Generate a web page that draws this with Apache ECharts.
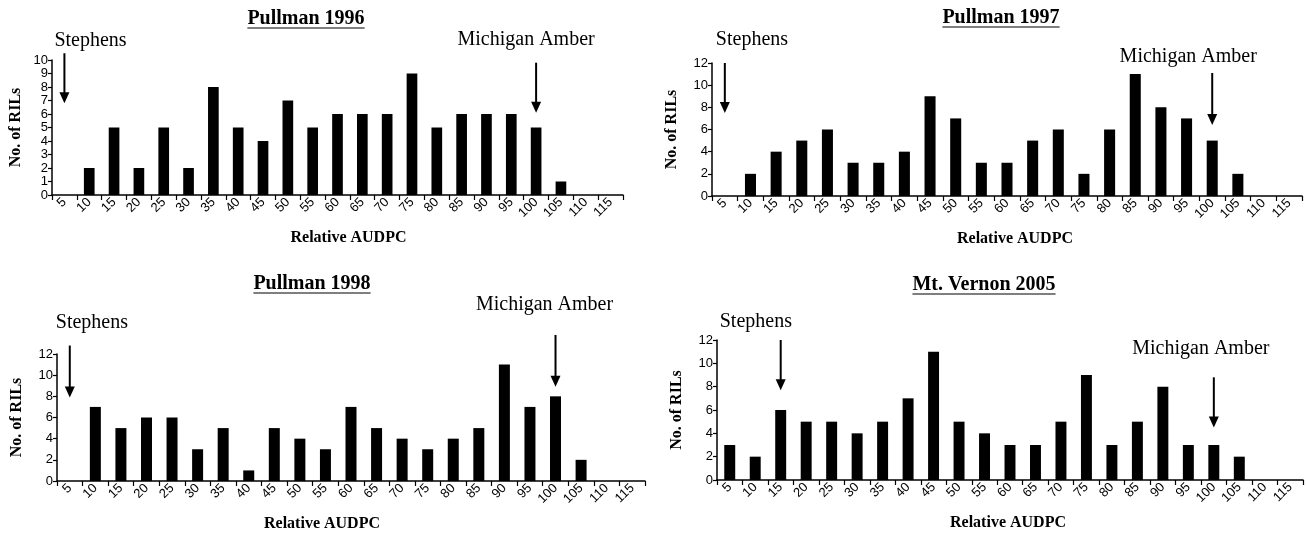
<!DOCTYPE html>
<html>
<head>
<meta charset="utf-8">
<script src="https://cdn.jsdelivr.net/npm/echarts@6/dist/echarts.min.js"></script>
<style>
html,body{margin:0;padding:0;background:#fff;}
#c{width:1306px;height:535px;}
</style>
</head>
<body>
<div id="c"></div>
<script>
// ---------- DATA ----------
const categories = ['5','10','15','20','25','30','35','40','45','50','55','60','65','70','75','80','85','90','95','100','105','110','115'];
const titles = ['Pullman 1996', 'Pullman 1997', 'Pullman 1998', 'Mt. Vernon 2005'];
const pullman1996 = [0,2,5,2,5,2,8,5,4,7,5,6,6,6,9,5,6,6,6,5,1,0,0];
const pullman1997 = [0,2,4,5,6,3,3,4,9,7,3,3,5,6,2,6,11,8,7,5,2,0,0];
const pullman1998 = [0,7,5,6,6,3,5,1,5,4,3,7,5,4,3,4,5,11,7,8,2,0,0];
const mtVernon2005 = [3,2,6,5,5,4,5,7,11,5,4,3,3,5,9,3,5,8,3,3,2,0,0];
const yMax = [10, 12, 12, 12];
const yStep = [1, 2, 2, 2];
const yTickLabels = [
  ['0','1','2','3','4','5','6','7','8','9','10'],
  ['0','2','4','6','8','10','12'],
  ['0','2','4','6','8','10','12'],
  ['0','2','4','6','8','10','12']
];
// annotation arrows: [category, arrow top value, arrow tip value]
const parentNames = ['Stephens', 'Michigan Amber'];
const stephensArrows = [['5',10.5,6.8], ['5',12.0,7.5], ['5',12.8,7.9], ['15',12.0,7.7]];
const amberArrows    = [['100',9.8,6.1], ['100',11.1,6.4], ['100',13.8,8.9], ['100',8.8,4.5]];
const seriesValues = [pullman1996, pullman1997, pullman1998, mtVernon2005];

// ---------- LAYOUT / STYLE ----------
const grids = [
  {left:52, right:683, top:60, bottom:340},
  {left:712, right:4, top:63, bottom:339},
  {left:57, right:661, top:354, bottom:54},
  {left:717, right:3, top:340, bottom:55}
];
const yNameGap = [28, 32, 32, 32];
const xNamePad = [[0,0,0,22],[0,0,0,16],[0,58,0,0],[0,4,0,0]];
const titlePos = [[306,19],[1001,18],[312,284],[984,285]];
// label offsets relative to arrow top [dx, dy, align]
const stephensLabelOff = [[-10,-13,'left'],[-9,-23,'left'],[-14,-23,'left'],[-61,-18,'left']];
const amberLabelOff = [[-10,-23,'center'],[-24,-16,'center'],[-11,-30,'center'],[-13,-29,'center']];

const serif = '"Liberation Serif", "Times New Roman", serif';
const sans = '"Liberation Sans", Arial, sans-serif';

const chart = echarts.init(document.getElementById('c'), null, {renderer:'canvas'});

const option = {
  backgroundColor:'#fff',
  animation:false,
  grid: grids.map(g => Object.assign({containLabel:false}, g)),
  xAxis: grids.map((g,i) => ({
    type:'category', gridIndex:i, data:categories,
    name:'Relative AUDPC', nameLocation:'middle', nameGap:35,
    nameTextStyle:{fontFamily:serif, fontWeight:'bold', fontSize:16, color:'#000', padding:xNamePad[i]},
    axisLine:{lineStyle:{color:'#000', width:1.5}},
    axisTick:{show:true, alignWithLabel:false, length:5, lineStyle:{color:'#000', width:1.2}},
    axisLabel:{interval:0, rotate:45, margin:5, fontFamily:sans, fontSize:13, color:'#000'},
    splitLine:{show:false}
  })),
  yAxis: grids.map((g,i) => ({
    type:'value', gridIndex:i, min:0, max:yMax[i], interval:yStep[i],
    name:'No. of RILs', nameLocation:'middle', nameGap:yNameGap[i],
    nameTextStyle:{fontFamily:serif, fontWeight:'bold', fontSize:16, color:'#000'},
    axisLine:{show:true, lineStyle:{color:'#000', width:1.5}},
    axisTick:{show:true, length:4, lineStyle:{color:'#000', width:1.2}},
    axisLabel:{margin:4, fontFamily:sans, fontSize:13, color:'#000',
      formatter:(v)=>{ const idx = Math.round(v / yStep[i]); return yTickLabels[i][idx] !== undefined ? yTickLabels[i][idx] : ''; }},
    splitLine:{show:false}
  })),
  series: []
};

seriesValues.forEach((vals,i) => {
  option.series.push({
    type:'bar', xAxisIndex:i, yAxisIndex:i, data:vals, barWidth:'43%',
    itemStyle:{color:'#000'}, silent:true
  });
  const annos = [stephensArrows[i], amberArrows[i]];
  const offs = [stephensLabelOff[i], amberLabelOff[i]];
  option.series.push({
    type:'custom', xAxisIndex:i, yAxisIndex:i, clip:false, silent:true,
    encode:{x:0, y:[1,2]},
    data: annos,
    renderItem:(params, api) => {
      const x = api.value(0);
      const p1 = api.coord([x, api.value(1)]);
      const p2 = api.coord([x, api.value(2)]);
      const off = offs[params.dataIndex];
      return {type:'group', children:[
        {type:'line', shape:{x1:p1[0], y1:p1[1], x2:p2[0], y2:p2[1]-9}, style:{stroke:'#000', lineWidth:2}},
        {type:'polygon', shape:{points:[[p2[0]-5,p2[1]-11],[p2[0]+5,p2[1]-11],[p2[0],p2[1]]]}, style:{fill:'#000'}},
        {type:'text', x:p1[0]+off[0], y:p1[1]+off[1],
          style:{text:parentNames[params.dataIndex], font:'20px ' + serif, fill:'#000', align:off[2], verticalAlign:'middle'}}
      ]};
    }
  });
});

// titles with underline
const cv = document.createElement('canvas').getContext('2d');
const titleFont = 'bold 20px ' + serif;
cv.font = titleFont;
option.graphic = [];
titles.forEach((t,i) => {
  const w = cv.measureText(t).width;
  const [cx, cy] = titlePos[i];
  option.graphic.push({type:'text', x:cx, y:cy, style:{text:t, font:titleFont, fill:'#000', align:'center', verticalAlign:'middle'}});
  option.graphic.push({type:'line', shape:{x1:cx-w/2, y1:cy+9, x2:cx+w/2, y2:cy+9}, style:{stroke:'#000', lineWidth:1.2}});
});

chart.setOption(option);
</script>
</body>
</html>
